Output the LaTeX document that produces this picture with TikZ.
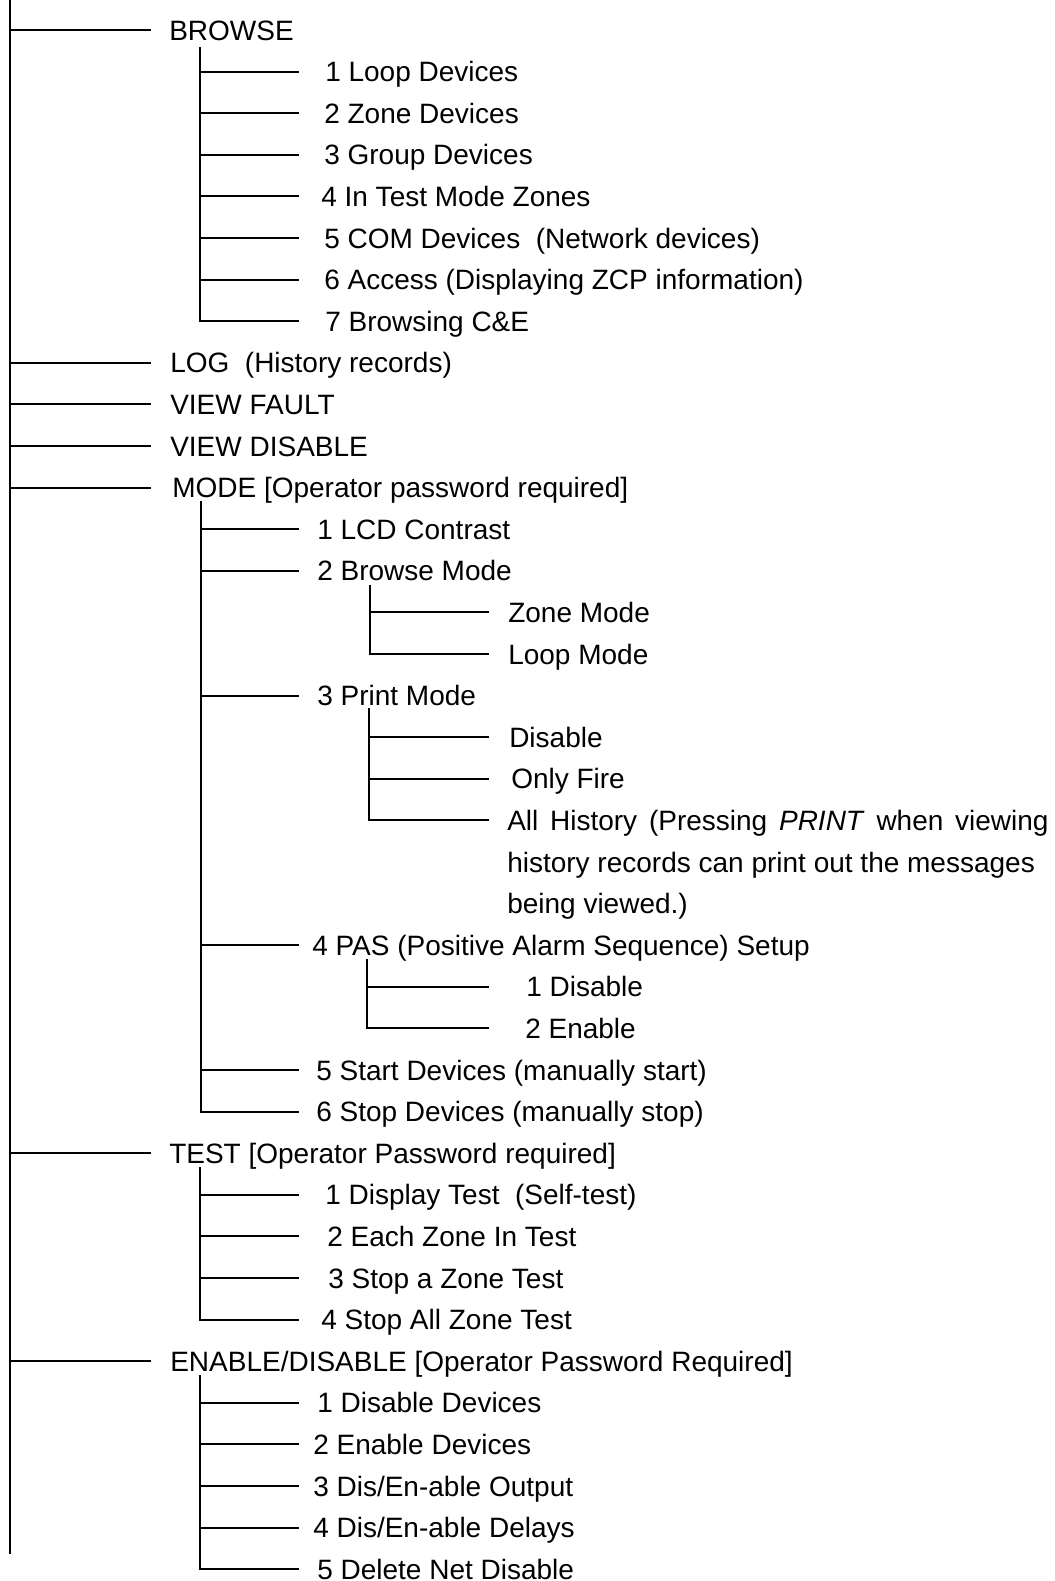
\documentclass[tikz,border=0pt]{standalone}
\usepackage{fontspec}
\setmainfont{Liberation Sans}
\begin{document}
\begin{tikzpicture}[x=0.75pt,y=-0.75pt,
  lbl/.style={anchor=west,inner sep=0pt,text height=15pt,text depth=0pt,font=\fontsize{21pt}{24pt}\selectfont},
  wire/.style={line width=1.4pt,line cap=rect}]
\useasboundingbox (0,0) rectangle (1054,1581);
% labels
\node[lbl] (n0)  at (169,30)    {BROWSE};
\node[lbl] (n1)  at (325,71.6)  {1 Loop Devices};
\node[lbl] (n2)  at (324,113.2) {2 Zone Devices};
\node[lbl] (n3)  at (324,154.8) {3 Group Devices};
\node[lbl] (n4)  at (321,196.4) {4 In Test Mode Zones};
\node[lbl] (n5)  at (324,238)   {5 COM Devices\ \ (Network devices)};
\node[lbl] (n6)  at (324,279.6) {6 Access (Displaying ZCP information)};
\node[lbl] (n7)  at (325,321.2) {7 Browsing C\&E};
\node[lbl] (n8)  at (170,362.8) {LOG\ \ (History records)};
\node[lbl] (n9)  at (170,404.4) {VIEW FAULT};
\node[lbl] (n10) at (170,446)   {VIEW DISABLE};
\node[lbl] (n11) at (172,487.6) {MODE [Operator password required]};
\node[lbl] (n12) at (317,529.2) {1 LCD Contrast};
\node[lbl] (n13) at (317,570.8) {2 Browse Mode};
\node[lbl] (n14) at (508,612.4) {Zone Mode};
\node[lbl] (n15) at (508,654)   {Loop Mode};
\node[lbl] (n16) at (317,695.6) {3 Print Mode};
\node[lbl] (n17) at (509,737.2) {Disable};
\node[lbl] (n18) at (511,778.8) {Only Fire};
\node[lbl] (n19) at (507,820.4) {\makebox[406pt][s]{All History (Pressing \textit{PRINT} when viewing}};
\node[lbl] (n20) at (507,862)   {history records can print out the messages};
\node[lbl] (n21) at (507,903.6) {being viewed.)};
\node[lbl] (n22) at (312,945.2) {4 PAS (Positive Alarm Sequence) Setup};
\node[lbl] (n23) at (526,986.8) {1 Disable};
\node[lbl] (n24) at (525,1028.4){2 Enable};
\node[lbl] (n25) at (316,1070)  {5 Start Devices (manually start)};
\node[lbl] (n26) at (316,1111.6){6 Stop Devices (manually stop)};
\node[lbl] (n27) at (169,1153.2){TEST [Operator Password required]};
\node[lbl] (n28) at (325,1194.8){1 Display Test\ \ (Self-test)};
\node[lbl] (n29) at (327,1236.4){2 Each Zone In Test};
\node[lbl] (n30) at (328,1278)  {3 Stop a Zone Test};
\node[lbl] (n31) at (321,1319.6){4 Stop All Zone Test};
\node[lbl] (n32) at (170,1361.2){ENABLE/DISABLE [Operator Password Required]};
\node[lbl] (n33) at (317,1402.8){1 Disable Devices};
\node[lbl] (n34) at (313,1444.4){2 Enable Devices};
\node[lbl] (n35) at (313,1486)  {3 Dis/En-able Output};
\node[lbl] (n36) at (313,1527.6){4 Dis/En-able Delays};
\node[lbl] (n37) at (317,1569.2){5 Delete Net Disable};
% trunk coordinates
\coordinate (mt) at (10,0);
\coordinate (mb) at (10,1553);
\coordinate (me) at (150,0);
\coordinate (bt) at (200,48);
\coordinate (be) at (298,0);
\coordinate (mdt) at (201,502);
\coordinate (bmt) at (370,586);
\coordinate (le) at (488,0);
\coordinate (pmt) at (369,709);
\coordinate (pst) at (367,960);
\coordinate (tt) at (200,1168);
\coordinate (et) at (200,1376);
% main trunk
\draw[wire] (mt) -- (mb);
\foreach \n in {n0,n8,n9,n10,n11,n27,n32}
  \draw[wire] (mt |- \n.west) -- (me |- \n.west);
% browse
\draw[wire] (bt) -- (bt |- n7.west);
\foreach \n in {n1,n2,n3,n4,n5,n6,n7}
  \draw[wire] (bt |- \n.west) -- (be |- \n.west);
% mode
\draw[wire] (mdt) -- (mdt |- n26.west);
\foreach \n in {n12,n13,n16,n22,n25,n26}
  \draw[wire] (mdt |- \n.west) -- (be |- \n.west);
\draw[wire] (bmt) -- (bmt |- n15.west);
\foreach \n in {n14,n15}
  \draw[wire] (bmt |- \n.west) -- (le |- \n.west);
\draw[wire] (pmt) -- (pmt |- n19.west);
\foreach \n in {n17,n18,n19}
  \draw[wire] (pmt |- \n.west) -- (le |- \n.west);
\draw[wire] (pst) -- (pst |- n24.west);
\foreach \n in {n23,n24}
  \draw[wire] (pst |- \n.west) -- (le |- \n.west);
% test
\draw[wire] (tt) -- (tt |- n31.west);
\foreach \n in {n28,n29,n30,n31}
  \draw[wire] (tt |- \n.west) -- (be |- \n.west);
% enable
\draw[wire] (et) -- (et |- n37.west);
\foreach \n in {n33,n34,n35,n36,n37}
  \draw[wire] (et |- \n.west) -- (be |- \n.west);
\end{tikzpicture}
\end{document}
